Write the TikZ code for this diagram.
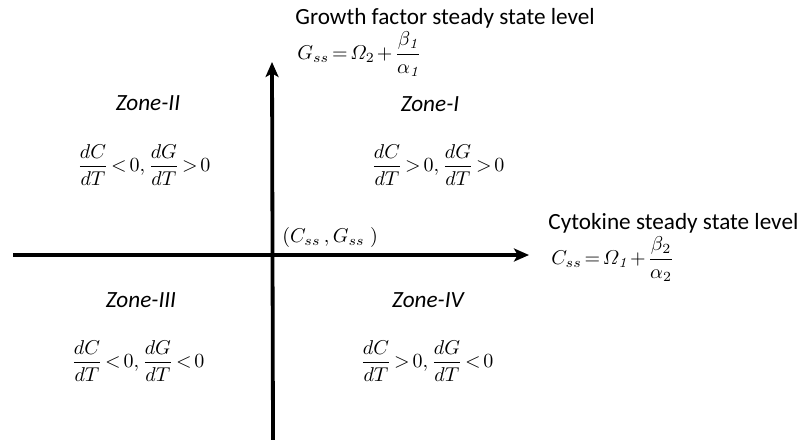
\documentclass[tikz,border=0pt]{standalone}
\usepackage{amsmath}
\usepackage{fontspec}
\setsansfont{Carlito}
\usetikzlibrary{arrows.meta}
\newcommand{\tightmath}{\thickmuskip=2.5mu\relax\medmuskip=2mu\relax}

\begin{document}
\begin{tikzpicture}[x=0.5pt,y=-0.5pt,line cap=round,line join=round,
  axis/.style={line width=1.9pt,line cap=butt,-{Stealth[length=7.5pt,width=6.5pt,inset=1.8pt]}},
  caption/.style={font=\sffamily\fontsize{11.6}{14}\selectfont,anchor=west,inner sep=0pt},
  level/.style={font=\fontsize{10}{12}\selectfont,anchor=west,inner sep=0pt},
  zone/.style={font=\sffamily\itshape\fontsize{11.6}{14}\selectfont,inner sep=0pt},
  rate/.style={font=\fontsize{10}{12}\selectfont,inner sep=0pt}]
\useasboundingbox (0,0) rectangle (812,439);

% axes
\coordinate (xl) at (13,255);
\coordinate (xr) at (529,255);
\coordinate (yb) at (273,440);
\coordinate (yt) at (272,62);
\draw[axis] (xl) -- (xr);
\draw[axis] (yb) -- (yt);

% axis labels
\node[caption] (gcap) at (295,18) {Growth factor steady state level};
\node[level] (gss) at (297,54) {$\tightmath G_{ss} = \varOmega_2 + \dfrac{\beta_{\mathit{1}}}{\alpha_{\mathit{1}}}$};
\node[caption] (ccap) at (548,223) {Cytokine steady state level};
\node[level] (css) at (551,259) {$\tightmath C_{ss} = \varOmega_{\mathit{1}} + \dfrac{\beta_2}{\alpha_2}$};
\node[level] (ss) at (282,237) {$(C_{ss}\,, G_{ss}\;)$};

% zones
\node[zone] (z2) at (148,103) {Zone-II};
\node[zone] (z1) at (430,104) {Zone-I};
\node[zone] (z3) at (141,300) {Zone-III};
\node[zone] (z4) at (428,300) {Zone-IV};

\node[rate] (r2) at (144,165) {$\tightmath\dfrac{dC}{dT} < 0, \dfrac{dG}{dT} > 0$};
\node[rate] (r1) at (438,165) {$\tightmath\dfrac{dC}{dT} > 0, \dfrac{dG}{dT} > 0$};
\node[rate] (r3) at (138,361) {$\tightmath\dfrac{dC}{dT} < 0, \dfrac{dG}{dT} < 0$};
\node[rate] (r4) at (427,361) {$\tightmath\dfrac{dC}{dT} > 0, \dfrac{dG}{dT} < 0$};
\end{tikzpicture}
\end{document}
